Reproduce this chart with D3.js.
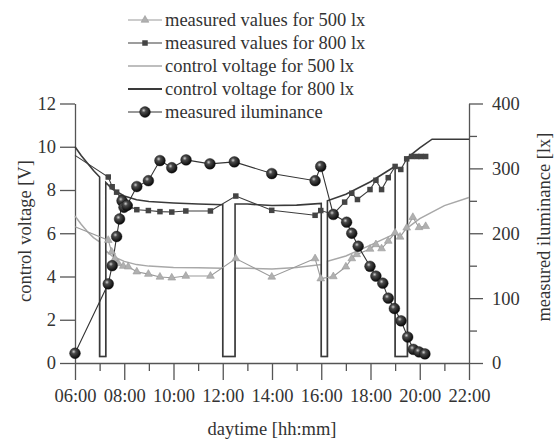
<!DOCTYPE html>
<html><head><meta charset="utf-8">
<script src="https://cdn.jsdelivr.net/npm/d3@7"></script>
<style>body{margin:0;background:#fff}svg{display:block}text{font-family:"Liberation Serif","DejaVu Serif",serif;fill:#333}</style>
</head><body><svg id="c" width="555" height="441"></svg>
<script>
// ---- data (hours of day, values) ----
const xTicks = [6,8,10,12,14,16,18,20,22];
const xMinorTicks = [7,9,11,13,15,17,19,21];
const vTicks = [0,2,4,6,8,10,12];
const luxTicks = [0,100,200,300,400];
const luxMinorTicks = [50,150,250,350];

const ctrl800 = [[6,10.0],[6.25,9.6],[6.5,9.25],[6.75,8.9],[7.0,8.6],[7.0,0.3],[7.25,0.3],[7.25,8.35],[7.5,8.05],[8,7.72],[8.5,7.55],[9,7.47],[10,7.4],[11,7.35],[12,7.32],[12,0.3],[12.5,0.3],[12.5,7.35],[13,7.35],[14,7.28],[15,7.3],[16,7.38],[16,0.3],[16.25,0.3],[16.25,7.5],[17,7.8],[18,8.38],[19,9.1],[19,0.3],[19.5,0.3],[19.5,9.5],[20,9.95],[20.5,10.35],[22,10.35]];
const ctrl500 = [[6,6.8],[6.25,6.42],[6.5,6.08],[6.75,5.8],[7.0,5.6],[7.0,0.3],[7.25,0.3],[7.25,5.2],[7.5,4.95],[8,4.7],[8.5,4.55],[9,4.48],[10,4.42],[11,4.4],[12,4.38],[12,0.3],[12.5,0.3],[12.5,4.38],[13,4.38],[14,4.35],[15,4.42],[16,4.55],[16,0.3],[16.25,0.3],[16.25,4.7],[17,4.95],[18,5.45],[19,5.98],[19,0.3],[19.5,0.3],[19.5,6.25],[20,6.68],[21,7.28],[22,7.65]];
const meas800 = [[6,9.6],[7.35,8.6],[7.51,8.15],[7.69,7.9],[7.87,7.65],[8.05,7.42],[8.23,7.24],[8.51,7.09],[8.98,7.05],[9.45,7.0],[9.93,6.98],[10.5,7.03],[11.5,7.03],[12.53,7.72],[13.99,7.06],[15.75,6.83],[15.98,7.05],[16.49,6.88],[16.95,7.44],[17.24,7.85],[17.47,7.56],[17.98,8.02],[18.22,8.45],[18.45,8.02],[18.72,8.57],[19.0,9.09],[19.23,8.95],[19.47,9.44],[19.67,9.55],[19.88,9.55],[20.05,9.55],[20.24,9.55]];
const meas500 = [[6,6.3],[7.35,5.68],[7.49,5.14],[7.62,4.83],[7.76,4.6],[7.96,4.48],[8.16,4.45],[8.51,4.22],[8.98,4.11],[9.45,3.98],[9.93,3.94],[10.5,4.02],[11.5,4.02],[12.53,4.83],[13.99,3.98],[15.75,4.83],[15.98,3.9],[16.49,4.0],[17.0,4.45],[17.24,4.83],[17.44,5.02],[17.98,5.27],[18.22,5.48],[18.45,5.29],[18.72,5.64],[19.0,6.02],[19.2,5.83],[19.47,6.25],[19.72,6.74],[19.97,6.27],[20.24,6.32]];
const illum = [[6,15],[7.35,122],[7.51,150],[7.69,195],[7.81,222],[7.91,250],[7.99,240],[8.11,243],[8.51,272],[8.98,281],[9.45,312],[9.93,301],[10.51,313],[11.48,307],[12.47,310],[13.99,292],[15.75,281],[15.98,303],[16.49,229],[17.03,217],[17.24,200],[17.5,180],[17.98,149],[18.22,134],[18.5,123],[18.72,100],[18.97,84],[19.24,65],[19.51,40],[19.74,21],[19.97,17],[20.21,14]];

const legendItems = [
  {label:"measured values for 500 lx", key:"m500"},
  {label:"measured values for 800 lx", key:"m800"},
  {label:"control voltage for 500 lx", key:"c500"},
  {label:"control voltage for 800 lx", key:"c800"},
  {label:"measured iluminance", key:"ill"}
];

// ---- drawing ----
const svg = d3.select("#c");
const x = d3.scaleLinear().domain([6,22]).range([75,469]);
const yV = d3.scaleLinear().domain([0,12]).range([363,103.5]);
const yL = d3.scaleLinear().domain([0,400]).range([363,103.5]);

const defs = svg.append("defs");
const g = defs.append("radialGradient").attr("id","ball").attr("cx","38%").attr("cy","35%").attr("r","65%");
g.append("stop").attr("offset","0%").attr("stop-color","#d0d0d0");
g.append("stop").attr("offset","30%").attr("stop-color","#4a4a4a");
g.append("stop").attr("offset","100%").attr("stop-color","#080808");

const styles = {
  c500:{stroke:"#a8a8a8", w:1.5},
  c800:{stroke:"#3a3a3a", w:1.6},
  m500:{stroke:"#9a9a9a", w:1.1},
  m800:{stroke:"#3c3c3c", w:1.1},
  ill:{stroke:"#333", w:1.1}
};
const axisColor = "#555";
const FS = "18.5px";
const fmt = h => (h<10?"0":"")+h+":00";

function styleAxis(sel){
  sel.selectAll("path,line").attr("stroke",axisColor).attr("stroke-width",1.3);
  sel.selectAll("text").style("font-family","'Liberation Serif',serif").style("font-size","18.5px").attr("fill","#333");
}

// axes
const gx = svg.append("g").attr("transform","translate(0,363)")
  .call(d3.axisBottom(x).tickValues(xTicks).tickFormat(fmt).tickSize(17).tickSizeOuter(0).tickPadding(5));
styleAxis(gx);
gx.selectAll("text").attr("dy","0.9em");
const gxm = svg.append("g").attr("transform","translate(0,363)")
  .call(d3.axisBottom(x).tickValues(xMinorTicks).tickFormat("").tickSize(8).tickSizeOuter(0));
styleAxis(gxm); gxm.select(".domain").remove();

const gl = svg.append("g").attr("transform","translate(75,0)")
  .call(d3.axisLeft(yV).tickValues(vTicks).tickSize(15).tickSizeOuter(0).tickPadding(4));
styleAxis(gl);
const gr = svg.append("g").attr("transform","translate(469,0)")
  .call(d3.axisRight(yL).tickValues(luxTicks).tickSize(14).tickSizeOuter(0).tickPadding(9));
styleAxis(gr);
const grm = svg.append("g").attr("transform","translate(469,0)")
  .call(d3.axisRight(yL).tickValues(luxMinorTicks).tickFormat("").tickSize(8).tickSizeOuter(0));
styleAxis(grm); grm.select(".domain").remove();

// titles
svg.append("text").attr("x",272).attr("y",435).attr("text-anchor","middle").style("font-size",FS).text("daytime [hh:mm]");
svg.append("text").attr("transform","translate(31,231) rotate(-90)").attr("text-anchor","middle").style("font-size",FS).text("control voltage [V]");
svg.append("text").attr("transform","translate(550,227) rotate(-90)").attr("text-anchor","middle").style("font-size",FS).text("measured iluminance [lx]");

const plot = svg.append("g");
const lineV = d3.line().x(d=>x(d[0])).y(d=>yV(d[1]));
const lineL = d3.line().x(d=>x(d[0])).y(d=>yL(d[1]));

function path(data, gen, key){
  plot.append("path").datum(data).attr("d",gen).attr("fill","none")
    .attr("stroke",styles[key].stroke).attr("stroke-width",styles[key].w).attr("stroke-linejoin","miter");
}
path(ctrl500, lineV, "c500");
path(ctrl800, lineV, "c800");
path(meas500, lineV, "m500");
path(meas800, lineV, "m800");
path(illum, lineL, "ill");

const tri = d3.symbol().type(d3.symbolTriangle).size(26);
function triangles(sel){ sel.attr("d",tri).attr("fill","#b0b0b0").attr("stroke","#9a9a9a").attr("stroke-width",0.6); }
function squares(sel){ sel.attr("width",5.5).attr("height",5.5).attr("x",-2.75).attr("y",-2.75).attr("fill","#444"); }
function balls(sel){ sel.attr("r",5.4).attr("fill","url(#ball)").attr("stroke","#111").attr("stroke-width",0.4); }

plot.append("g").selectAll("path").data(meas500.slice(1)).join("path")
  .attr("transform",d=>`translate(${x(d[0])},${yV(d[1])})`).call(triangles);
plot.append("g").selectAll("rect").data(meas800.slice(1)).join("rect")
  .attr("transform",d=>`translate(${x(d[0])},${yV(d[1])})`).call(squares);
plot.append("g").selectAll("circle").data(illum).join("circle")
  .attr("cx",d=>x(d[0])).attr("cy",d=>yL(d[1])).call(balls);

// legend
const lg = svg.append("g");
legendItems.forEach((it,i)=>{
  const yy = 20 + i*23;
  const s = styles[it.key];
  lg.append("line").attr("x1",128).attr("x2",162).attr("y1",yy).attr("y2",yy)
    .attr("stroke",s.stroke).attr("stroke-width",it.key==="c800"?2:s.w);
  if(it.key==="m500") lg.append("path").attr("transform",`translate(145,${yy})`).call(triangles);
  if(it.key==="m800") lg.append("rect").attr("transform",`translate(145,${yy})`).call(squares);
  if(it.key==="ill") lg.append("circle").attr("cx",145).attr("cy",yy).call(balls);
  lg.append("text").attr("x",165).attr("y",yy).attr("dy","0.33em").style("font-size",FS).text(it.label);
});
</script></body></html>
